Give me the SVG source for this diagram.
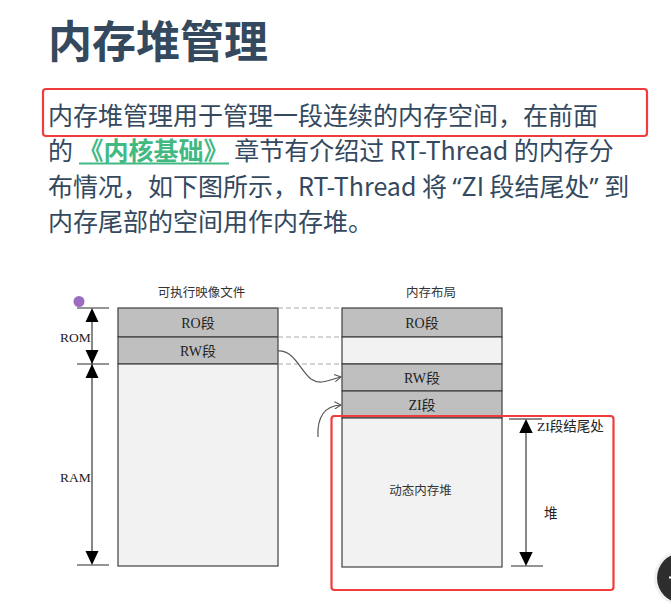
<svg xmlns="http://www.w3.org/2000/svg" width="671" height="610" viewBox="0 0 671 610">
<style>
.title{font-family:"Noto Sans CJK SC","Noto Sans",sans-serif;font-size:44px;font-weight:700;fill:#34495e}
.para{font-family:"Noto Sans CJK SC","Noto Sans",sans-serif;font-size:25px;fill:#34495e}
.q{font-family:"Noto Sans",sans-serif}
.link{fill:#42b983;font-weight:700}
.hl{fill:none;stroke:#f03c3c;stroke-width:2.2}
.cap{font-family:"Noto Sans CJK SC",sans-serif;font-size:12.5px;fill:#333;text-anchor:middle}
.seg{font-family:"Liberation Serif","Noto Sans CJK SC",serif;font-size:14px;fill:#222;text-anchor:middle}
.lbl{font-family:"Liberation Serif","Noto Sans CJK SC",serif;font-size:13.5px;fill:#222}
.dark{fill:#bfbfbf;stroke:#404040;stroke-width:1.2}
.light{fill:#f2f2f2;stroke:#404040;stroke-width:1.2}
.dim{stroke:#555;stroke-width:1.4;fill:none}
.tick{stroke:#666;stroke-width:1.4}
.dash{stroke:#aaa;stroke-width:1;stroke-dasharray:5 3}
.curve{fill:none;stroke:#555;stroke-width:1.2}
.tri{fill:#000}
</style>
<defs>
<marker id="chev" viewBox="0 0 10 10" refX="9" refY="5" markerWidth="8" markerHeight="8" markerUnits="userSpaceOnUse" orient="auto">
<path d="M1,0.5 L9,5 L1,9.5" fill="none" stroke="#555" stroke-width="1.3"/>
</marker>
</defs>
<rect width="671" height="610" fill="#fff"/>

<g id="heading">
<text class="title" x="48" y="58">内存堆管理</text>
</g>

<g id="paragraph">
<text class="para" x="48" y="125">内存堆管理用于管理一段连续的内存空间，在前面</text>
<text class="para" x="48" y="160" xml:space="preserve">的 <tspan class="link">《内核基础》</tspan> 章节有介绍过 RT-Thread 的内存分</text>
<line x1="79" y1="163.5" x2="229" y2="163.5" stroke="#42b983" stroke-width="2"/>
<text class="para" x="48" y="195.5" xml:space="preserve">布情况，如下图所示，RT-Thread 将 <tspan class="q">“</tspan>ZI 段结尾处<tspan class="q">”</tspan> 到</text>
<text class="para" x="48" y="231">内存尾部的空间用作内存堆。</text>
<rect id="highlight1" class="hl" x="43" y="89" width="604" height="47" rx="3"/>
</g>

<g id="dot">
<circle cx="79" cy="301.5" r="5.5" fill="#9b6cbf"/>
</g>

<g id="image-file">
<text class="cap" x="201.5" y="297">可执行映像文件</text>
<g id="img-ro"><rect class="dark" x="118" y="308" width="160" height="29"/><text class="seg" x="198" y="328">RO段</text></g>
<g id="img-rw"><rect class="dark" x="118" y="337" width="160" height="27"/><text class="seg" x="198" y="355.5">RW段</text></g>
<g id="img-ram"><rect class="light" x="118" y="364" width="160" height="202"/></g>
</g>

<g id="memory-layout">
<text class="cap" x="431" y="297">内存布局</text>
<g id="mem-ro"><rect class="dark" x="342" y="308" width="160" height="29"/><text class="seg" x="422" y="328">RO段</text></g>
<g id="mem-gap"><rect class="light" x="342" y="337" width="160" height="27"/></g>
<g id="mem-rw"><rect class="dark" x="342" y="364" width="160" height="27"/><text class="seg" x="422" y="382.5">RW段</text></g>
<g id="mem-zi"><rect class="dark" x="342" y="391" width="160" height="27"/><text class="seg" x="422" y="409.5">ZI段</text></g>
<g id="mem-heap"><rect class="light" x="342" y="418" width="160" height="149"/><text class="cap" x="420.5" y="494.5">动态内存堆</text></g>
</g>

<g id="rom-ram-dim">
<line class="tick" x1="77" y1="308" x2="109" y2="308"/>
<line class="tick" x1="77" y1="364" x2="109" y2="364"/>
<line class="tick" x1="77" y1="565" x2="109" y2="565"/>
<line class="dim" x1="92" y1="310" x2="92" y2="562"/>
<polygon class="tri" points="92,308 85.5,322 98.5,322"/>
<polygon class="tri" points="92,364 85.5,350 98.5,350"/>
<polygon class="tri" points="92,364 85.5,378 98.5,378"/>
<polygon class="tri" points="92,565 85.5,551 98.5,551"/>
<text class="lbl" x="60" y="342">ROM</text>
<text class="lbl" x="60" y="482">RAM</text>
</g>

<g id="heap-dim">
<line class="tick" x1="509" y1="419" x2="542" y2="419"/>
<line class="tick" x1="511" y1="566" x2="543" y2="566"/>
<line class="dim" x1="526" y1="421" x2="526" y2="564"/>
<polygon class="tri" points="526,419 519.3,433 532.7,433"/>
<polygon class="tri" points="526,566 519.3,552 532.7,552"/>
<text class="lbl" x="537" y="431">ZI段结尾处</text>
<text class="lbl" x="544" y="518">堆</text>
</g>

<g id="connectors">
<line class="dash" x1="278" y1="308" x2="342" y2="308"/>
<line class="dash" x1="278" y1="337" x2="342" y2="337"/>
<line class="dash" x1="278" y1="364" x2="342" y2="364"/>
<path class="curve" d="M278,351 C294,350 300,370 311,379 C321,386 330,379 341,377" marker-end="url(#chev)"/>
<path class="curve" d="M318,437 C317,418 324,406 341,405" marker-end="url(#chev)"/>
</g>

<rect id="highlight2" class="hl" x="331.5" y="416" width="282" height="174" rx="3" stroke-width="2.5"/>

<g id="float-button">
<circle cx="682" cy="578" r="28" fill="#000" opacity="0.06"/>
<circle cx="682" cy="578" r="25" fill="#2d2d2d"/>
<rect x="669" y="576.5" width="3" height="2" fill="#fff"/>
</g>
</svg>
